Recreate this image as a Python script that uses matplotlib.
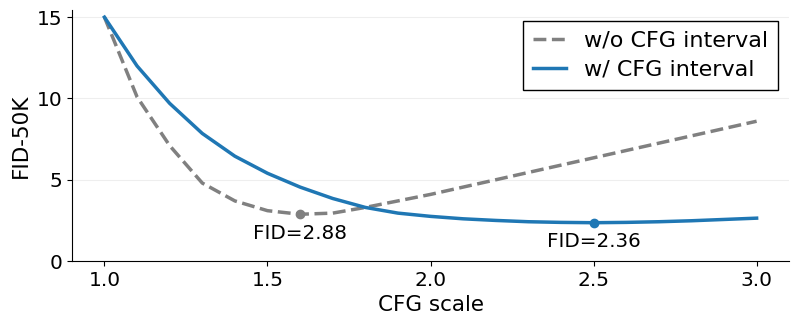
from matplotlib import pyplot as plt
import numpy as np

# data
CFG_SCALE = [1.0, 1.1, 1.2, 1.3, 1.4, 1.5, 1.6, 1.7, 1.8, 1.9, 2.0,
             2.1, 2.2, 2.3, 2.4, 2.5, 2.6, 2.7, 2.8, 2.9, 3.0]
FID_NO_INTERVAL = [15.0, 10.1, 7.1, 4.8, 3.7, 3.1, 2.88, 2.95, 3.3, 3.7, 4.1,
                   4.55, 5.0, 5.45, 5.9, 6.35, 6.8, 7.25, 7.7, 8.15, 8.6]
FID_INTERVAL = [15.0, 12.0, 9.7, 7.85, 6.45, 5.4, 4.55, 3.85, 3.3, 2.95, 2.75,
                2.6, 2.5, 2.42, 2.38, 2.36, 2.38, 2.42, 2.48, 2.56, 2.64]
BEST_NO_INTERVAL = (1.6, 2.88)
BEST_INTERVAL = (2.5, 2.36)

BLUE = "#1f77b4"
GRAY = "gray"


def main():
    fig, ax = plt.subplots(figsize=(7.98, 3.28), dpi=100)

    ax.plot(CFG_SCALE, FID_NO_INTERVAL, "--", color=GRAY, linewidth=2.5,
            label="w/o CFG interval")
    ax.plot(CFG_SCALE, FID_INTERVAL, "-", color=BLUE, linewidth=2.5,
            label="w/ CFG interval")

    for (x, y), c in [(BEST_NO_INTERVAL, GRAY), (BEST_INTERVAL, BLUE)]:
        ax.plot(x, y, "o", color=c, markersize=6)
        ax.annotate(f"FID={y:.2f}", (x, y), xytext=(0, -7),
                    textcoords="offset points", ha="center", va="top",
                    fontsize=14.3)

    ax.set_xlim(0.9, 3.1)
    ax.set_ylim(0, 15.45)
    ax.set_xticks([1.0, 1.5, 2.0, 2.5, 3.0])
    ax.set_yticks([0, 5, 10, 15])
    ax.tick_params(labelsize=14.5)
    ax.set_xlabel("CFG scale", fontsize=15.5)
    ax.set_ylabel("FID-50K", fontsize=15.5)
    ax.yaxis.grid(True, color="#eeeeee", linewidth=0.8)
    ax.set_axisbelow(True)
    ax.spines["top"].set_visible(False)
    ax.spines["right"].set_visible(False)

    leg = ax.legend(loc="upper right", fontsize=16, fancybox=False,
                    edgecolor="black", framealpha=1,
                    borderpad=0.45, handlelength=1.5, labelspacing=0.4)
    leg.get_frame().set_linewidth(1.0)

    plt.subplots_adjust(left=0.09, right=0.989, bottom=0.204, top=0.97)
    plt.savefig("out.png")


if __name__ == "__main__":
    main()
